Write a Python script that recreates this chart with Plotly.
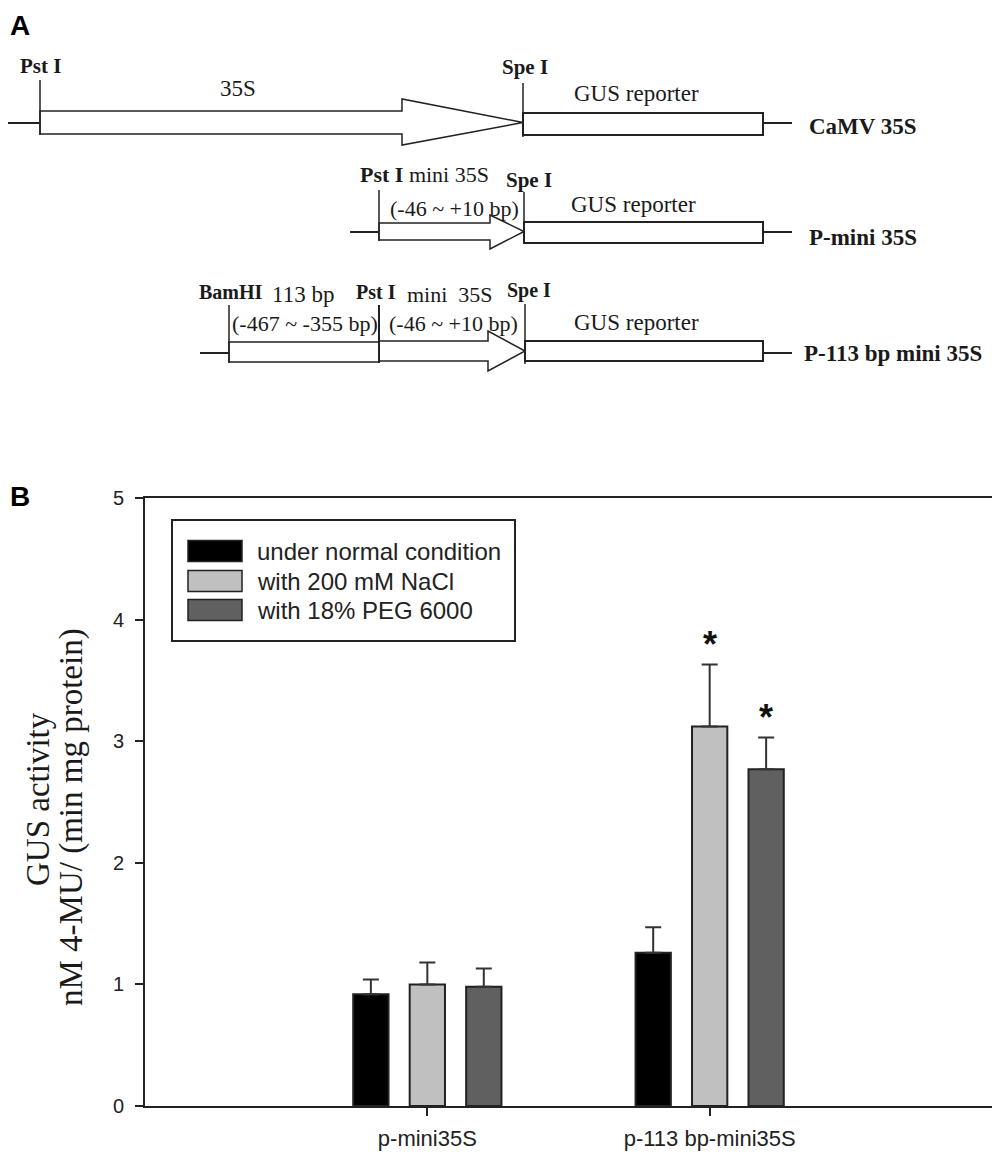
import plotly.graph_objects as go

# GUS activity (nM 4-MU / min mg protein)
constructs = ['p-mini35S', 'p-113 bp-mini35S']
conditions = ['under normal condition', 'with 200 mM NaCl', 'with 18% PEG 6000']
normal = [0.92, 1.26]
normal_err = [0.12, 0.21]
nacl = [1.00, 3.12]
nacl_err = [0.18, 0.51]
peg = [0.98, 2.77]
peg_err = [0.15, 0.26]
nacl_sig = ['', '*']
peg_sig = ['', '*']
y_ticks = [0, 1, 2, 3, 4, 5]

colors = ['#000000', '#c0c0c0', '#606060']
W, H = 1000, 1160
PAGE = 8  # default body margin of the html page
SERIF = 'Times New Roman, Liberation Serif, serif'
SANS = 'Arial, Liberation Sans, sans-serif'
INK = '#1a1a1a'


def px(x):
    return (x - PAGE) / W


def py(y):
    return 1 - (y - PAGE) / H


fig = go.Figure()

series = [(normal, normal_err, None), (nacl, nacl_err, nacl_sig), (peg, peg_err, peg_sig)]
for i, (vals, errs, sig) in enumerate(series):
    fig.add_trace(go.Bar(
        x=constructs, y=vals, name=conditions[i],
        marker=dict(color=colors[i], line=dict(color='#222', width=2)),
        error_y=dict(type='data', symmetric=False, array=errs, arrayminus=[0] * len(errs),
                     color='#333', thickness=2, width=8),
        showlegend=False,
    ))

bargap = 0.4
slot = (1 - bargap) / 3
ann = []
for i, (vals, errs, sig) in enumerate(series):
    if sig is None:
        continue
    for j, s in enumerate(sig):
        if s:
            ann.append(dict(x=j + (i - 1) * slot, y=vals[j] + errs[j], xref='x', yref='y',
                            text='<b>*</b>', showarrow=False, yanchor='bottom', yshift=-2,
                            font=dict(family=SANS, size=36, color='#111')))

# ---- panel A: construct diagrams ----
shapes = []


def line(x0, y0, x1, y1, w=2):
    shapes.append(dict(type='line', xref='paper', yref='paper', x0=px(x0), y0=py(y0),
                       x1=px(x1), y1=py(y1), line=dict(color='#222', width=w)))


def box(x0, y0, x1, y1, fill='white', w=2):
    shapes.append(dict(type='rect', xref='paper', yref='paper', x0=px(x0), y0=py(y0),
                       x1=px(x1), y1=py(y1), fillcolor=fill, line=dict(color='#222', width=w)))


def arrow(x0, x_head, x_tip, top, bot, head_top, head_bot):
    mid = (top + bot) / 2
    pts = [(x0, top), (x_head, top), (x_head, head_top), (x_tip, mid),
           (x_head, head_bot), (x_head, bot), (x0, bot)]
    path = 'M ' + ' L '.join('%.5f,%.5f' % (px(a), py(b)) for a, b in pts) + ' Z'
    shapes.append(dict(type='path', xref='paper', yref='paper', path=path,
                       fillcolor='white', line=dict(color='#222', width=1.5)))


def text(x, y, s, size=23, bold=False, family=SERIF, xanchor='center', color=INK, angle=0):
    if bold:
        s = '<b>%s</b>' % s
    ann.append(dict(x=px(x), y=py(y), xref='paper', yref='paper', text=s, showarrow=False,
                    xanchor=xanchor, yanchor='middle', textangle=angle,
                    font=dict(family=family, size=size, color=color)))


# row 1: CaMV 35S
line(8, 123, 40, 123)
arrow(40, 402, 523, 111, 134, 99, 145)
line(40, 80, 40, 135, 1.5)
box(523, 113, 763, 135)
line(523, 83, 523, 137, 1.5)
line(763, 123, 792, 123)
text(18, 66, 'Pst I', 21, True, xanchor='left')
text(238, 88, '35S')
text(500, 67, 'Spe I', 21, True, xanchor='left')
text(636, 94, 'GUS reporter')
text(807, 126, 'CaMV 35S', 23, True, xanchor='left')

# row 2: P-mini 35S
line(350, 232, 379, 232)
arrow(379, 490, 524, 223, 240, 215, 249)
line(379, 190, 379, 241, 1.5)
box(524, 222, 763, 243)
line(524, 192, 524, 244, 1.5)
line(763, 232, 792, 232)
text(358, 175, '<b>Pst I</b> mini 35S', 22, xanchor='left')
text(504, 180, 'Spe I', 21, True, xanchor='left')
text(454, 208, '(-46 ~ +10 bp)', 22)
text(633, 205, 'GUS reporter')
text(807, 237, 'P-mini 35S', 23, True, xanchor='left')

# row 3: P-113 bp mini 35S
line(200, 353, 229, 353)
box(229, 342, 379, 362, w=1.5)
arrow(379, 488, 525, 341, 361, 331, 371)
line(229, 305, 229, 363, 1.5)
line(379, 305, 379, 363, 2)
box(525, 341, 763, 361)
line(525, 304, 525, 364, 1.5)
line(763, 353, 792, 353)
text(197, 292, 'BamHI', 20, True, xanchor='left')
text(270, 294, '113 bp', 23, xanchor='left')
text(354, 292, 'Pst I', 20, True, xanchor='left')
text(405, 295, 'mini  35S', 22, xanchor='left')
text(505, 290, 'Spe I', 20, True, xanchor='left')
text(305, 323, '(-467 ~ -355 bp)', 22)
text(453, 323, '(-46 ~ +10 bp)', 22)
text(636, 322, 'GUS reporter')
text(802, 353, 'P-113 bp mini 35S', 23, True, xanchor='left')

# panel letters
text(8, 25, 'A', 28, True, SANS, xanchor='left', color='#000')
text(8, 497, 'B', 28, True, SANS, xanchor='left', color='#000')

# y-axis title (two rotated lines)
text(38, 799, 'GUS activity', 33, angle=-90)
text(71, 817, 'nM 4-MU/ (min mg protein)', 33, angle=-90)

# custom legend
box(172, 520, 515, 641, w=2)
leg_rows = [551, 581, 610]
for i, name in enumerate(conditions):
    yc = leg_rows[i]
    box(188, yc - 10.5, 242, yc + 10.5, fill=colors[i], w=1.5)
    text(255, yc, name, 24, family=SANS, xanchor='left', color='#222')

fig.update_layout(
    width=W, height=H,
    margin=dict(l=0, r=0, t=0, b=0, autoexpand=False),
    paper_bgcolor='white', plot_bgcolor='white',
    barmode='group', bargap=bargap, bargroupgap=0.375,
    shapes=shapes, annotations=ann,
    xaxis=dict(domain=[px(145), px(992)], range=[-1, 2], type='category', automargin=False,
               showline=True, linecolor='#222', linewidth=2, mirror=True,
               ticks='outside', ticklen=8, tickwidth=2, tickcolor='#222', ticklabelstandoff=4,
               tickfont=dict(family=SANS, size=22, color='#222'), showgrid=False, zeroline=False),
    yaxis=dict(domain=[py(1106), py(498)], range=[0, 5], tickvals=y_ticks, automargin=False,
               showline=True, linecolor='#222', linewidth=2, mirror=True,
               ticks='outside', ticklen=8, tickwidth=2, tickcolor='#222', ticklabelstandoff=7,
               tickfont=dict(family=SANS, size=20, color='#222'), showgrid=False, zeroline=False),
)

fig.write_html("out.html")
